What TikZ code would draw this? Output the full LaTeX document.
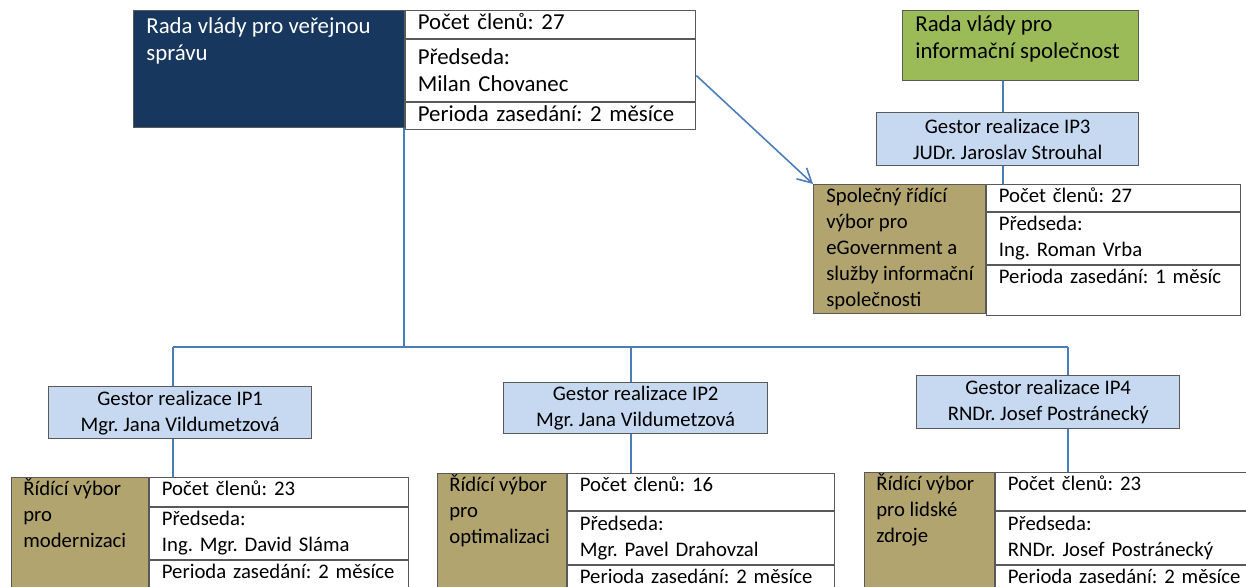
\documentclass[tikz,border=0pt]{standalone}
\usepackage{fontspec}
\setmainfont{Carlito}
\usetikzlibrary{arrows.meta, calc}
\definecolor{radanavy}{HTML}{17375E}
\definecolor{radagreen}{HTML}{9BBB59}
\definecolor{gestorblue}{HTML}{C6D9F1}
\definecolor{vybortan}{HTML}{B1A46F}
\definecolor{linkblue}{HTML}{4A7EBB}
\definecolor{rimgray}{HTML}{595959}
\frenchspacing

\begin{document}
\begin{tikzpicture}[x=0.02cm, y=-0.02cm,
    font=\fontsize{11.8}{14.8}\selectfont,
    big/.style={font=\fontsize{13}{15.4}\selectfont},
    box/.style={draw=rimgray, line width=0.8pt, anchor=north west, inner sep=0pt},
    row/.style={draw=rimgray, line width=0.6pt, fill=white, anchor=north west,
      align=left, inner xsep=0.24cm, inner ysep=0pt},
    toprow/.style={row, text height=0.27cm, inner ysep=0.08cm, text depth=#1},
    gestor/.style={draw=rimgray, line width=0.8pt, fill=gestorblue, align=center,
      anchor=north west, inner sep=0pt},
    txt/.style={anchor=north west, align=left, inner sep=0pt},
    conn/.style={draw=linkblue, line width=0.9pt}]
  \useasboundingbox (0,0) rectangle (1246,587);

  % rada vlady pro verejnou spravu
  \node[box, fill=radanavy, minimum width=5.42cm, minimum height=2.34cm] (rvs) at (133,10) {};
  \node[txt, big, text=white] (rvs-t) at ([shift={(0.26cm,-0.14cm)}]rvs.north west)
    {Rada vlády pro veřejnou\\správu};
  \node[toprow=0.10cm, big, text height=0.30cm, minimum width=5.8cm, text width=5.32cm] (rvs-a) at (rvs.north east)
    {Počet členů: 27};
  \node[row, big, minimum width=5.8cm, text width=5.32cm, minimum height=1.24cm] (rvs-b) at (rvs-a.south west)
    {Předseda:\\Milan Chovanec};
  \node[toprow=0.08cm, big, text height=0.30cm, minimum width=5.8cm, text width=5.32cm] (rvs-c) at (rvs-b.south west)
    {Perioda zasedání: 2 měsíce};

  % rada vlady pro informacni spolecnost
  \node[box, fill=radagreen, minimum width=4.72cm, minimum height=1.4cm] (riss) at (902,10) {};
  \node[txt, big] (riss-t) at ([shift={(0.26cm,-0.10cm)}]riss.north west)
    {Rada vlády pro\\informační společnost};
  \node[gestor, minimum width=5.24cm, minimum height=1.06cm] (g3) at (876,112)
    {Gestor realizace IP3\\JUDr. Jaroslav Strouhal};
  \node[box, fill=vybortan, minimum width=3.44cm, minimum height=2.58cm] (sv) at (813,184) {};
  \node[txt] (sv-t) at ([shift={(0.26cm,-0.08cm)}]sv.north west)
    {Společný řídící\\výbor pro\\eGovernment a\\služby informační\\společnosti};
  \node[toprow=0.11cm, minimum width=5.08cm, text width=4.60cm] (sv-a) at (sv.north east)
    {Počet členů: 27};
  \node[row, minimum width=5.08cm, text width=4.60cm, minimum height=1.04cm] (sv-b) at (sv-a.south west)
    {Předseda:\\Ing. Roman Vrba};
  \node[toprow=0.57cm, minimum width=5.08cm, text width=4.60cm] (sv-c) at (sv-b.south west)
    {Perioda zasedání: 1 měsíc};

  % gestori IP1, IP2, IP4
  \node[gestor, minimum width=5.26cm, minimum height=1.04cm] (g1) at (48,386)
    {Gestor realizace IP1\\Mgr. Jana Vildumetzová};
  \node[gestor, minimum width=5.28cm, minimum height=1.02cm] (g2) at (503,382)
    {Gestor realizace IP2\\Mgr. Jana Vildumetzová};
  \node[gestor, minimum width=5.26cm, minimum height=1.06cm] (g4) at (916,375)
    {Gestor realizace IP4\\RNDr. Josef Postránecký};

  % ridici vybory
  \node[box, fill=vybortan, minimum width=2.74cm, minimum height=2.6cm] (v1) at (11,477) {};
  \node[txt] (v1-t) at ([shift={(0.24cm,-0.02cm)}]v1.north west)
    {Řídící výbor\\pro\\modernizaci};
  \node[toprow=0.15cm, minimum width=5.18cm, text width=4.70cm] (v1-a) at (v1.north east)
    {Počet členů: 23};
  \node[row, minimum width=5.18cm, text width=4.70cm, minimum height=1.04cm] (v1-b) at (v1-a.south west)
    {Předseda:\\Ing. Mgr. David Sláma};
  \node[toprow=0.4cm, minimum width=5.18cm, text width=4.70cm] (v1-c) at (v1-b.south west)
    {Perioda zasedání: 2 měsíce};

  \node[box, fill=vybortan, minimum width=2.58cm, minimum height=2.6cm] (v2) at (437,473) {};
  \node[txt] (v2-t) at ([shift={(0.24cm,-0.02cm)}]v2.north west)
    {Řídící výbor\\pro\\optimalizaci};
  \node[toprow=0.31cm, minimum width=5.34cm, text width=4.86cm] (v2-a) at (v2.north east)
    {Počet členů: 16};
  \node[row, minimum width=5.34cm, text width=4.86cm, minimum height=1.06cm] (v2-b) at (v2-a.south west)
    {Předseda:\\Mgr. Pavel Drahovzal};
  \node[toprow=0.4cm, minimum width=5.34cm, text width=4.86cm] (v2-c) at (v2-b.south west)
    {Perioda zasedání: 2 měsíce};

  \node[box, fill=vybortan, minimum width=2.6cm, minimum height=2.6cm] (v4) at (864,472) {};
  \node[txt] (v4-t) at ([shift={(0.24cm,-0.02cm)}]v4.north west)
    {Řídící výbor\\pro lidské\\zdroje};
  \node[toprow=0.33cm, minimum width=5.4cm, text width=4.92cm] (v4-a) at (v4.north east)
    {Počet členů: 23};
  \node[row, minimum width=5.4cm, text width=4.92cm, minimum height=1.06cm] (v4-b) at (v4-a.south west)
    {Předseda:\\RNDr. Josef Postránecký};
  \node[toprow=0.4cm, minimum width=5.4cm, text width=4.92cm] (v4-c) at (v4-b.south west)
    {Perioda zasedání: 2 měsíce};

  % spojnice
  \coordinate (b1) at (173,347);
  \coordinate (b2) at (631,347);
  \coordinate (b4) at (1068,347);
  \coordinate (b3) at (1003,0);
  \coordinate (b0) at ([xshift=-0.7pt]rvs.south east);
  \draw[conn] (b0) -- (b0 |- b1);
  \draw[conn] (b1) -- (b4);
  \draw[conn] (b1) -- (b1 |- g1.north);
  \draw[conn] (b2) -- (b2 |- g2.north);
  \draw[conn] (b4) -- (b4 |- g4.north);
  \draw[conn] (b1 |- g1.south) -- (b1 |- v1.north);
  \draw[conn] (b2 |- g2.south) -- (b2 |- v2.north);
  \draw[conn] (b4 |- g4.south) -- (b4 |- v4.north);
  \draw[conn] (b3 |- riss.south) -- (b3 |- g3.north);
  \draw[conn] (b3 |- g3.south) -- (b3 |- sv-a.north);
  \draw[conn, -{Straight Barb[length=2.8mm, width=3mm]}]
    ([yshift=-0.1cm]rvs-b.east) -- (sv.north west);
\end{tikzpicture}
\end{document}
